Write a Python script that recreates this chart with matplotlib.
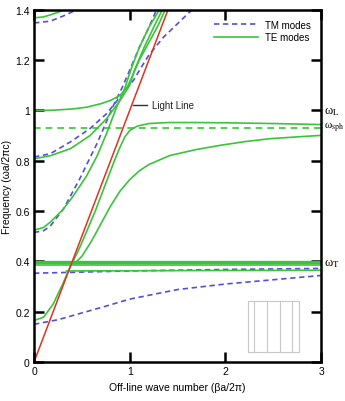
import matplotlib
matplotlib.use("Agg")
import matplotlib.pyplot as plt

plt.rcParams['font.family'] = ['Liberation Sans', 'DejaVu Sans']
plt.rcParams['mathtext.fontset'] = 'stix'

# TE modes (green, solid)
te_band_hi_x = [0, 3]
te_band_hi_y = [0.396, 0.396]
te_band_lo_x = [0, 3]
te_band_lo_y = [0.386, 0.386]
te_low_x = [0.34, 3]
te_low_y = [0.362, 0.365]
te_a_x = [0, 0.2, 0.4, 0.55, 0.7, 0.8, 0.9, 0.97, 1.02, 1.1, 1.2, 1.3, 1.37]
te_a_y = [1.0, 1.001, 1.006, 1.013, 1.027, 1.04, 1.06, 1.09, 1.13, 1.2, 1.27, 1.34, 1.4]
te_b_x = [0, 0.17, 0.38, 0.585, 0.76, 0.9, 1.0, 1.05, 1.15, 1.25, 1.34]
te_b_y = [0.808, 0.82, 0.848, 0.90, 0.968, 1.04, 1.1, 1.16, 1.25, 1.33, 1.4]
te_d_x = [0, 0.1, 0.17, 0.3, 0.41, 0.55, 0.66, 0.76, 0.86, 0.95, 1.02, 1.1, 1.2, 1.31]
te_d_y = [0.524, 0.535, 0.556, 0.605, 0.66, 0.74, 0.82, 0.91, 1.01, 1.09, 1.17, 1.25, 1.33, 1.4]
te_g_x = [0, 0.1, 0.2, 0.3, 0.38, 0.46, 0.54, 0.64, 0.74, 0.84, 0.9, 0.95,
          1.0, 1.08, 1.2, 1.4, 1.7, 2.0, 2.5, 3.0]
te_g_y = [0.165, 0.178, 0.23, 0.31, 0.38, 0.44, 0.51, 0.6, 0.7, 0.8, 0.855, 0.895,
          0.92, 0.938, 0.948, 0.952, 0.952, 0.951, 0.948, 0.944]
te_h_x = [0.42, 0.5, 0.6, 0.7, 0.8, 0.9, 1.0, 1.1, 1.2, 1.42, 1.7, 1.94,
          2.2, 2.47, 2.75, 3.0]
te_h_y = [0.39, 0.42, 0.48, 0.55, 0.62, 0.68, 0.725, 0.76, 0.785, 0.821,
          0.845, 0.861, 0.876, 0.888, 0.895, 0.901]
te_top_x = [0, 0.1, 0.17, 0.25, 0.34]
te_top_y = [1.368, 1.372, 1.38, 1.39, 1.405]

# TM modes (blue, dashed)
tm_low_x = [0, 0.25, 0.5, 0.75, 1.0, 1.5, 2.0, 2.5, 3.0]
tm_low_y = [0.15, 0.168, 0.195, 0.222, 0.25, 0.288, 0.31, 0.327, 0.344]
tm_mid_x = [0, 1, 2, 3]
tm_mid_y = [0.353, 0.362, 0.368, 0.372]
tm_e_x = [0, 0.1, 0.17, 0.31, 0.48, 0.66, 0.83, 0.92, 1.0, 1.1, 1.2, 1.28]
tm_e_y = [0.515, 0.522, 0.54, 0.61, 0.73, 0.87, 1.02, 1.09, 1.16, 1.25, 1.33, 1.4]
tm_c_x = [0, 0.17, 0.38, 0.585, 0.76, 0.86, 0.95, 1.04, 1.11, 1.2, 1.35, 1.5, 1.65]
tm_c_y = [0.815, 0.828, 0.875, 0.928, 0.988, 1.035, 1.08, 1.12, 1.165, 1.22,
          1.29, 1.345, 1.40]
tm_top_x = [0, 0.17, 0.34, 0.46]
tm_top_y = [1.348, 1.355, 1.381, 1.404]

# reference frequencies and light line
omega_sph = 0.929
omega_L = 1.0
omega_T = 0.395
light_x = [0, 1.45]
light_y = [0, 1.45]

# inset sketch of the rod array
inset_x = [2.24, 2.30, 2.44, 2.57, 2.70, 2.77]
inset_y = [0.04, 0.244]

green = '#3ac43a'
blue = '#5050dd'
red = '#e0321e'

fig = plt.figure(figsize=(3.45, 4.02), dpi=100)
ax = fig.add_axes([0.0986, 0.097, 0.832, 0.876])

dash = (0, (3.2, 2.2))
tm_curves = [(tm_low_x, tm_low_y), (tm_mid_x, tm_mid_y), (tm_e_x, tm_e_y),
             (tm_c_x, tm_c_y), (tm_top_x, tm_top_y)]
te_curves = [(te_band_lo_x, te_band_lo_y), (te_low_x, te_low_y),
             (te_a_x, te_a_y), (te_b_x, te_b_y), (te_d_x, te_d_y),
             (te_g_x, te_g_y), (te_h_x, te_h_y), (te_top_x, te_top_y)]

for i, (xs, ys) in enumerate(tm_curves):
    ax.plot(xs, ys, color=blue, lw=1.2, ls=dash,
            label='TM modes' if i == 0 else None)
for i, (xs, ys) in enumerate(te_curves):
    ax.plot(xs, ys, color=green, lw=1.2,
            label='TE modes' if i == 0 else None)
ax.plot(te_band_hi_x, te_band_hi_y, color=green, lw=2.4)
ax.plot([0, 3], [omega_sph, omega_sph], color=green, lw=1.2, ls=(0, (4, 3)))

ax.plot(light_x, light_y, color=red, lw=1.1)
ax.plot([1.03, 1.18], [1.021, 1.021], color='#333333', lw=1.0)
ax.text(1.23, 1.021, 'Light Line', fontsize=7, va='center', color='#222222')

# inset
ax.plot([inset_x[0], inset_x[-1], inset_x[-1], inset_x[0], inset_x[0]],
        [inset_y[0], inset_y[0], inset_y[1], inset_y[1], inset_y[0]],
        color='#c8c8c8', lw=0.8)
for xv in inset_x[1:-1]:
    ax.plot([xv, xv], inset_y, color='#c8c8c8', lw=0.8)

ax.set_xlim(0, 3)
ax.set_ylim(0, 1.4)
ax.set_xticks([0, 1, 2, 3])
ax.set_xticklabels(['0', '1', '2', '3'])
ax.set_yticks([0, 0.2, 0.4, 0.6, 0.8, 1.0, 1.2, 1.4])
ax.set_yticklabels(['0', '0.2', '0.4', '0.6', '0.8', '1', '1.2', '1.4'])
ax.tick_params(direction='in', length=7, width=1.8, labelsize=7.5,
               top=True, right=True, pad=3)
for s in ax.spines.values():
    s.set_linewidth(1.8)

ax.set_xlabel('Off-line wave number (\u03b2a/2\u03c0)', fontsize=7.5, labelpad=4)
ax.set_ylabel('Frequency (\u03c9a/2\u03c0c)', fontsize=7.5, labelpad=2)

# right-hand frequency markers, upright serif omega
serif = ['Liberation Serif', 'DejaVu Serif']
ax.text(3.035, omega_L, '\u03c9$_\\mathrm{L}$', fontsize=9, va='center',
        family=serif, clip_on=False)
ax.text(3.035, omega_sph + 0.005, '\u03c9$_\\mathrm{sph}$', fontsize=8, va='center',
        family=serif, clip_on=False)
ax.text(3.035, omega_T, '\u03c9$_\\mathrm{T}$', fontsize=9, va='center',
        family=serif, clip_on=False)

ax.legend(loc='upper right', frameon=False, fontsize=7, handlelength=4.5,
          handletextpad=0.8, borderaxespad=0.6, labelspacing=0.3)

fig.savefig('out.png', dpi=100)
